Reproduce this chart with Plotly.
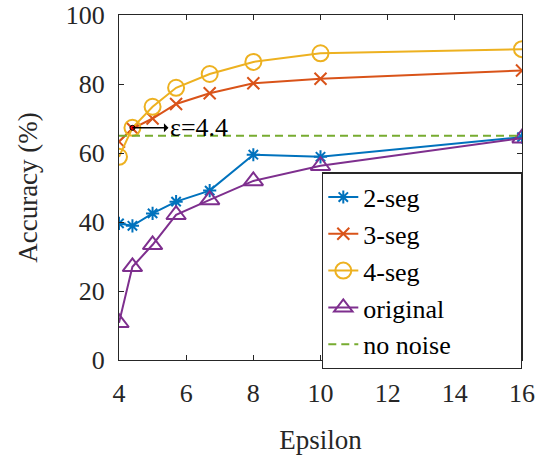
import plotly.graph_objects as go

eps = [4, 4.4, 5, 5.7, 6.7, 8, 10, 16]
seg2 = [39.6, 38.9, 42.5, 45.9, 49.1, 59.5, 58.9, 64.6]
seg3 = [63.3, 67.1, 70.0, 74.2, 77.3, 80.2, 81.5, 83.9]
seg4 = [58.9, 67.3, 73.4, 78.9, 82.9, 86.4, 88.9, 90.1]
orig = [10.8, 27.0, 33.4, 42.1, 46.4, 51.9, 56.3, 64.3]
no_noise_x = [4, 16]
no_noise_y = [65.0, 65.0]
mark_x, mark_y = 4.4, 67.3
names = ["2-seg", "3-seg", "4-seg", "original", "no noise"]

BLUE = "#0072BD"
ORANGE = "#D95319"
YELLOW = "#EDB120"
PURPLE = "#7E2F8E"
GREEN = "#77AC30"
AX = "#262626"
FONT = "Liberation Serif, serif"
PAD = "\u00a0" * 11

fig = go.Figure()

def add(name, y, color, symbol, size, lg):
    fig.add_trace(go.Scatter(
        x=eps, y=y, name=name, mode="lines+markers",
        line=dict(color=color, width=2),
        marker=dict(symbol=symbol, size=size, color=color,
                    line=dict(color=color, width=2)),
        legendgroup=lg,
    ))

add(names[0], seg2, BLUE, "asterisk-open", 11, "a")
add(names[1], seg3, ORANGE, "x-thin-open", 12, "b")
add(names[2], seg4, YELLOW, "circle-open", 16, "c")
add(names[3] + PAD, orig, PURPLE, "triangle-up-open", 17, "d")
fig.add_trace(go.Scatter(
    x=no_noise_x, y=no_noise_y, name=names[4], mode="lines",
    line=dict(color=GREEN, width=2, dash="8px,5px"), legendgroup="e",
))
fig.add_trace(go.Scatter(
    x=[mark_x], y=[mark_y], mode="markers", showlegend=False,
    marker=dict(size=5, color="red", line=dict(color="black", width=1)),
))

fig.add_annotation(
    x=mark_x, y=mark_y, ax=36, ay=0, text="ε=4.4",
    showarrow=True, arrowside="start", arrowhead=2, arrowsize=1.2,
    arrowwidth=1.5, arrowcolor="black", xanchor="left",
    font=dict(family=FONT, size=26, color="black"),
)

axis_common = dict(
    showline=True, linecolor=AX, linewidth=1.3, mirror="ticks",
    ticks="inside", ticklen=5, tickcolor=AX, tickwidth=1.2,
    showgrid=False, zeroline=False, automargin=False,
    tickfont=dict(family=FONT, size=26, color=AX),
)

fig.update_xaxes(range=[4, 16], tickvals=[4, 6, 8, 10, 12, 14, 16],
                 ticklabelstandoff=10,
                 title=dict(text="Epsilon", font=dict(family=FONT, size=27, color=AX), standoff=22),
                 **axis_common)
fig.update_yaxes(range=[0, 100], tickvals=[0, 20, 40, 60, 80, 100],
                 ticklabelstandoff=8,
                 title=dict(text="Accuracy (%)", font=dict(family=FONT, size=27, color=AX), standoff=20),
                 **axis_common)

fig.update_layout(
    width=543, height=463,
    margin=dict(l=119, r=21, t=15, b=103, autoexpand=False),
    plot_bgcolor="white", paper_bgcolor="white",
    showlegend=True,
    font=dict(family=FONT),
    legend=dict(
        x=1.0, y=0.544, xanchor="right", yanchor="top",
        bgcolor="white", bordercolor=AX, borderwidth=1.3,
        font=dict(family=FONT, size=26, color="black"),
        tracegroupgap=2, traceorder="normal",
    ),
)

fig.write_html("out.html")
